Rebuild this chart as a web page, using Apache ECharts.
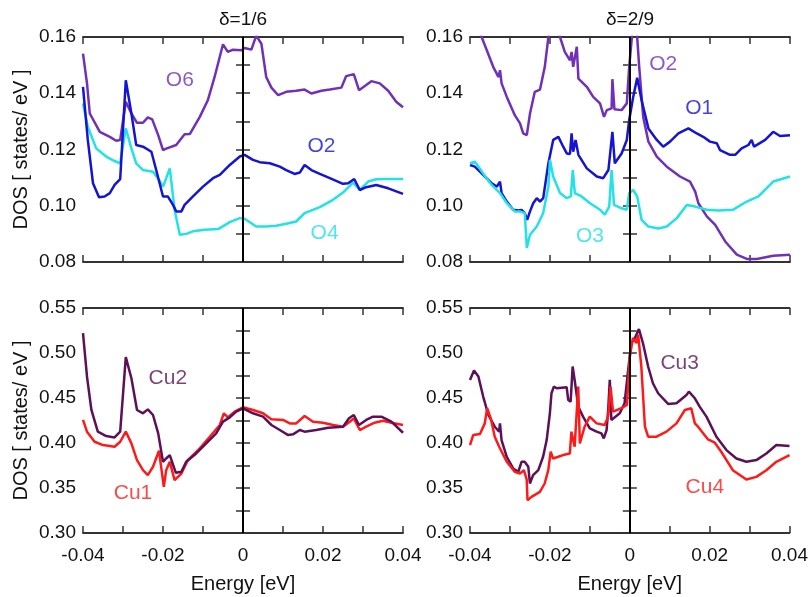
<!DOCTYPE html>
<html>
<head>
<meta charset="utf-8">
<script src="https://cdn.jsdelivr.net/npm/echarts@6/dist/echarts.min.js"></script>
<style>
  html, body { margin: 0; padding: 0; background: #fff; }
  #chart { width: 811px; height: 597px; }
</style>
</head>
<body>
<div id="chart"></div>
<script>
// 能量范围与刻度
const energyMin = -0.04;
const energyMax = 0.04;
const oRange = [0.08, 0.16];
const cuRange = [0.30, 0.55];
const panelTitles = ['δ=1/6', 'δ=2/9'];

// δ=1/6, O 轨道 DOS
const d16_O6 = [
  [-0.04, 0.1541], [-0.039, 0.1435], [-0.0383, 0.1328], [-0.0358, 0.1263], [-0.0333, 0.1245],
  [-0.0317, 0.1231], [-0.0307, 0.1234], [-0.0293, 0.137], [-0.0279, 0.1328], [-0.0265, 0.1295],
  [-0.025, 0.1295], [-0.0238, 0.1314], [-0.0227, 0.1307], [-0.0212, 0.1251], [-0.02, 0.1198],
  [-0.0192, 0.1203], [-0.0167, 0.1216], [-0.0146, 0.1254], [-0.0133, 0.1255], [-0.0108, 0.1316],
  [-0.0088, 0.1375], [-0.0071, 0.1458], [-0.005, 0.1574], [-0.0038, 0.1547], [-0.0025, 0.1555],
  [-0.0004, 0.1553], [0.0004, 0.1561], [0.0021, 0.1555], [0.0033, 0.1605], [0.0046, 0.1576],
  [0.0058, 0.1458], [0.0071, 0.142], [0.0088, 0.1393], [0.0108, 0.1405], [0.0133, 0.1409],
  [0.0154, 0.1413], [0.0171, 0.1399], [0.0196, 0.1409], [0.0217, 0.1413], [0.0246, 0.142],
  [0.0258, 0.1461], [0.0277, 0.1468], [0.029, 0.1411], [0.0308, 0.1429], [0.0321, 0.1443],
  [0.0342, 0.1435], [0.0363, 0.1409], [0.0383, 0.137], [0.04, 0.135]
];
const d16_O2 = [
  [-0.04, 0.1423], [-0.0388, 0.1234], [-0.0375, 0.108], [-0.036, 0.103], [-0.0346, 0.1033],
  [-0.0333, 0.1045], [-0.0321, 0.1074], [-0.0307, 0.1095], [-0.0293, 0.1446], [-0.0279, 0.1328],
  [-0.0267, 0.1216], [-0.025, 0.121], [-0.0229, 0.1192], [-0.0217, 0.1127], [-0.02, 0.1033],
  [-0.0188, 0.1033], [-0.0175, 0.1003], [-0.0167, 0.098], [-0.0154, 0.098], [-0.0146, 0.1003],
  [-0.0125, 0.1033], [-0.01, 0.1068], [-0.0075, 0.1098], [-0.0058, 0.111], [-0.0033, 0.1145],
  [-0.0008, 0.1175], [0.0004, 0.1181], [0.0025, 0.1163], [0.0042, 0.1155], [0.0067, 0.1151],
  [0.0092, 0.1139], [0.0108, 0.1127], [0.0129, 0.1113], [0.0142, 0.1118], [0.0154, 0.1145],
  [0.0171, 0.1127], [0.0192, 0.1113], [0.0217, 0.1098], [0.025, 0.1078], [0.0263, 0.108],
  [0.0278, 0.1095], [0.0292, 0.1056], [0.0308, 0.1066], [0.0333, 0.1074], [0.0363, 0.1062],
  [0.04, 0.1042]
];
const d16_O4 = [
  [-0.04, 0.1364], [-0.0388, 0.1281], [-0.0367, 0.1204], [-0.0342, 0.1175], [-0.0321, 0.1159],
  [-0.0307, 0.1151], [-0.0293, 0.1275], [-0.0279, 0.1204], [-0.0267, 0.1151], [-0.025, 0.1127],
  [-0.0225, 0.1121], [-0.021, 0.1092], [-0.02, 0.1068], [-0.0192, 0.1098], [-0.0183, 0.1133],
  [-0.0171, 0.0985], [-0.0158, 0.0897], [-0.0142, 0.09], [-0.0125, 0.0909], [-0.0096, 0.0915],
  [-0.0062, 0.0917], [-0.0033, 0.0942], [-0.0008, 0.0956], [0.0004, 0.0954], [0.0033, 0.0926],
  [0.0058, 0.0926], [0.0083, 0.0929], [0.0108, 0.0936], [0.0133, 0.0944], [0.0154, 0.0974],
  [0.0192, 0.0995], [0.0225, 0.1021], [0.025, 0.1047], [0.0275, 0.1082], [0.0292, 0.1056],
  [0.0313, 0.1086], [0.0333, 0.1094], [0.0358, 0.1095], [0.04, 0.1095]
];

// δ=2/9, O 轨道 DOS
const d29_O2 = [
  [-0.0385, 0.166], [-0.0371, 0.16], [-0.0358, 0.1553], [-0.0342, 0.1494], [-0.0329, 0.1458],
  [-0.0325, 0.1482], [-0.0321, 0.1435], [-0.0308, 0.1387], [-0.0288, 0.1322], [-0.0275, 0.1293],
  [-0.0267, 0.1257], [-0.0258, 0.1251], [-0.025, 0.1328], [-0.0238, 0.1405], [-0.0225, 0.1413],
  [-0.0213, 0.1494], [-0.0204, 0.16], [-0.019, 0.168], [-0.0175, 0.16], [-0.0163, 0.1547],
  [-0.015, 0.1517], [-0.0146, 0.1547], [-0.0142, 0.1494], [-0.0133, 0.1565], [-0.0129, 0.1452],
  [-0.0108, 0.1423], [-0.0092, 0.1387], [-0.0075, 0.1364], [-0.0065, 0.1316], [-0.0058, 0.134],
  [-0.0046, 0.1346], [-0.0044, 0.145], [-0.0039, 0.1343], [-0.0021, 0.134], [-0.0008, 0.1364],
  [-0.0002, 0.1494], [0.0006, 0.162], [0.0017, 0.162], [0.0023, 0.1494], [0.0033, 0.1316],
  [0.0046, 0.1228], [0.0067, 0.1175], [0.0092, 0.1139], [0.0125, 0.1104], [0.015, 0.1086],
  [0.0163, 0.105], [0.0171, 0.1009], [0.0192, 0.0962], [0.0213, 0.0932], [0.0238, 0.0873],
  [0.0267, 0.0826], [0.0292, 0.0811], [0.0317, 0.0811], [0.0358, 0.0822], [0.04, 0.0826]
];
const d29_O1 = [
  [-0.04, 0.1145], [-0.0388, 0.1139], [-0.0367, 0.111], [-0.0346, 0.108], [-0.0333, 0.1068],
  [-0.0325, 0.1086], [-0.0321, 0.1045], [-0.0308, 0.1015], [-0.0292, 0.0986], [-0.0279, 0.0983],
  [-0.0271, 0.0985], [-0.0263, 0.0974], [-0.0257, 0.095], [-0.025, 0.098], [-0.0242, 0.1009],
  [-0.0233, 0.1027], [-0.0225, 0.1015], [-0.0217, 0.1027], [-0.0204, 0.1151], [-0.0192, 0.1234],
  [-0.0179, 0.1245], [-0.0167, 0.121], [-0.0158, 0.1186], [-0.015, 0.1184], [-0.0146, 0.1257],
  [-0.0142, 0.1192], [-0.0136, 0.1234], [-0.0129, 0.1181], [-0.0108, 0.1133], [-0.0083, 0.1104],
  [-0.0067, 0.1098], [-0.0054, 0.1127], [-0.0044, 0.1263], [-0.0038, 0.1151], [-0.0021, 0.1186],
  [-0.0008, 0.1234], [-0.0002, 0.1305], [0.0008, 0.1387], [0.0018, 0.1455], [0.0029, 0.1375],
  [0.0046, 0.1275], [0.0067, 0.1234], [0.0083, 0.121], [0.01, 0.1228], [0.0121, 0.1257],
  [0.0146, 0.1275], [0.0167, 0.1257], [0.0183, 0.1245], [0.02, 0.1228], [0.0217, 0.1222],
  [0.0225, 0.1198], [0.025, 0.1181], [0.0263, 0.1181], [0.0279, 0.1204], [0.0296, 0.1216],
  [0.0304, 0.1234], [0.031, 0.121], [0.0338, 0.1234], [0.0358, 0.1263], [0.0375, 0.1248],
  [0.04, 0.1251]
];
const d29_O3 = [
  [-0.04, 0.1151], [-0.0388, 0.1157], [-0.0367, 0.1115], [-0.0346, 0.1074], [-0.0325, 0.1045],
  [-0.0308, 0.1009], [-0.0288, 0.098], [-0.0275, 0.098], [-0.0263, 0.0974], [-0.0258, 0.085],
  [-0.025, 0.0897], [-0.0233, 0.0926], [-0.0217, 0.0974], [-0.0204, 0.1068], [-0.02, 0.1163],
  [-0.0192, 0.1104], [-0.0175, 0.1045], [-0.0158, 0.1027], [-0.0148, 0.1033], [-0.0143, 0.1127],
  [-0.0138, 0.1045], [-0.0121, 0.1033], [-0.01, 0.1009], [-0.0075, 0.0986], [-0.0063, 0.0968],
  [-0.0052, 0.0997], [-0.0046, 0.1127], [-0.004, 0.1003], [-0.0021, 0.0991], [-0.0008, 0.0986],
  [-0.0002, 0.1045], [0.0008, 0.1056], [0.0018, 0.1033], [0.0029, 0.095], [0.0046, 0.0926],
  [0.0071, 0.0919], [0.0092, 0.0926], [0.0117, 0.0956], [0.0142, 0.1003], [0.0163, 0.0997],
  [0.0192, 0.0986], [0.0221, 0.0983], [0.0258, 0.0986], [0.0292, 0.1015], [0.0321, 0.1033],
  [0.0358, 0.1086], [0.04, 0.1104]
];

// δ=1/6, Cu 轨道 DOS
const d16_Cu2 = [
  [-0.04, 0.5221], [-0.039, 0.4738], [-0.0379, 0.4367], [-0.0363, 0.4126], [-0.0342, 0.4077],
  [-0.0321, 0.4062], [-0.0307, 0.4126], [-0.0293, 0.4954], [-0.0279, 0.472], [-0.0265, 0.4367],
  [-0.025, 0.433], [-0.0238, 0.4374], [-0.0225, 0.4311], [-0.0212, 0.4107], [-0.02, 0.3791],
  [-0.0192, 0.3828], [-0.0183, 0.3866], [-0.0168, 0.3669], [-0.0154, 0.368], [-0.0142, 0.3791],
  [-0.0117, 0.3884], [-0.0092, 0.3996], [-0.0067, 0.4107], [-0.005, 0.4237], [-0.0033, 0.4285],
  [-0.0017, 0.4348], [0, 0.4386], [0.0025, 0.433], [0.005, 0.4293], [0.0071, 0.42],
  [0.0092, 0.4144], [0.0113, 0.4088], [0.0125, 0.4096], [0.0142, 0.4144], [0.0154, 0.4126],
  [0.0183, 0.4144], [0.0213, 0.417], [0.025, 0.4181], [0.0265, 0.4274], [0.0277, 0.4311],
  [0.029, 0.42], [0.0308, 0.4256], [0.0325, 0.4293], [0.0346, 0.4293], [0.0371, 0.4237],
  [0.04, 0.4114]
];
const d16_Cu1 = [
  [-0.04, 0.4256], [-0.039, 0.4126], [-0.0371, 0.4014], [-0.035, 0.3977], [-0.0321, 0.3958],
  [-0.0307, 0.4014], [-0.0293, 0.4126], [-0.0279, 0.3996], [-0.0265, 0.381], [-0.025, 0.3698],
  [-0.0238, 0.3643], [-0.0225, 0.3736], [-0.021, 0.3914], [-0.0198, 0.3513], [-0.0192, 0.3698],
  [-0.0183, 0.3791], [-0.0171, 0.3587], [-0.0154, 0.3661], [-0.0138, 0.381], [-0.0108, 0.394],
  [-0.0083, 0.407], [-0.0058, 0.42], [-0.0048, 0.433], [-0.0038, 0.4285], [-0.0021, 0.4348],
  [0, 0.4397], [0.0025, 0.4367], [0.005, 0.433], [0.0071, 0.4263], [0.01, 0.4256],
  [0.0117, 0.4218], [0.0133, 0.4218], [0.0154, 0.43], [0.0175, 0.4237], [0.02, 0.4226],
  [0.0225, 0.42], [0.025, 0.4181], [0.0267, 0.4237], [0.0277, 0.4274], [0.0292, 0.4144],
  [0.0308, 0.4181], [0.0329, 0.4226], [0.035, 0.4248], [0.0371, 0.4226], [0.04, 0.42]
];

// δ=2/9, Cu 轨道 DOS
const d29_Cu3 = [
  [-0.04, 0.4701], [-0.039, 0.4805], [-0.0379, 0.4738], [-0.0367, 0.4516], [-0.0354, 0.4311],
  [-0.0338, 0.4181], [-0.0327, 0.4126], [-0.0325, 0.4218], [-0.0321, 0.4033], [-0.0308, 0.3847],
  [-0.0292, 0.3717], [-0.0279, 0.368], [-0.0271, 0.3791], [-0.0263, 0.3791], [-0.0254, 0.3736],
  [-0.025, 0.355], [-0.0242, 0.3643], [-0.0229, 0.3698], [-0.0217, 0.3847], [-0.0208, 0.4033],
  [-0.02, 0.433], [-0.0196, 0.4553], [-0.019, 0.4627], [-0.0183, 0.4608], [-0.0158, 0.462],
  [-0.0154, 0.4478], [-0.0148, 0.446], [-0.0143, 0.485], [-0.0138, 0.4701], [-0.0129, 0.4404],
  [-0.0117, 0.4293], [-0.01, 0.4163], [-0.0083, 0.4126], [-0.0071, 0.4107], [-0.0065, 0.4051],
  [-0.0058, 0.4144], [-0.0054, 0.4367], [-0.005, 0.4701], [-0.0046, 0.4256], [-0.0025, 0.433],
  [-0.0013, 0.4441], [-0.0004, 0.4813], [0.0004, 0.511], [0.0013, 0.5166], [0.0023, 0.5266],
  [0.0033, 0.511], [0.0046, 0.485], [0.0058, 0.4664], [0.0071, 0.4553], [0.0096, 0.4434],
  [0.0117, 0.4441], [0.0142, 0.4534], [0.0148, 0.4571], [0.0163, 0.4497], [0.0175, 0.4404],
  [0.0192, 0.4293], [0.0217, 0.407], [0.0242, 0.3921], [0.0267, 0.3828], [0.0292, 0.3791],
  [0.0317, 0.381], [0.0342, 0.3884], [0.0367, 0.3977], [0.04, 0.3966]
];
const d29_Cu4 = [
  [-0.04, 0.3977], [-0.0392, 0.4088], [-0.0375, 0.41], [-0.0363, 0.4218], [-0.0357, 0.4386],
  [-0.0348, 0.4274], [-0.0338, 0.407], [-0.0327, 0.3958], [-0.0308, 0.3791], [-0.0288, 0.368],
  [-0.0275, 0.3661], [-0.0265, 0.3698], [-0.0258, 0.3594], [-0.0256, 0.3364], [-0.0246, 0.3401],
  [-0.0225, 0.3457], [-0.0213, 0.355], [-0.0204, 0.3698], [-0.0198, 0.3903], [-0.0192, 0.3828],
  [-0.0179, 0.3847], [-0.0167, 0.3866], [-0.015, 0.3884], [-0.0146, 0.4126], [-0.0138, 0.3958],
  [-0.0129, 0.4627], [-0.0125, 0.3996], [-0.0113, 0.4181], [-0.01, 0.4293], [-0.0083, 0.4218],
  [-0.0063, 0.42], [-0.0054, 0.4293], [-0.0048, 0.4627], [-0.0042, 0.4348], [-0.0021, 0.4386],
  [-0.0007, 0.4423], [0, 0.4961], [0.0008, 0.5166], [0.0017, 0.511], [0.0021, 0.5203],
  [0.0029, 0.485], [0.0038, 0.4181], [0.0046, 0.407], [0.0067, 0.407], [0.0092, 0.4126],
  [0.0117, 0.4218], [0.0138, 0.4367], [0.0154, 0.4386], [0.0163, 0.4218], [0.0171, 0.4181],
  [0.0196, 0.404], [0.0213, 0.4003], [0.0229, 0.3903], [0.0258, 0.3698], [0.0292, 0.3594],
  [0.0317, 0.3624], [0.0342, 0.3698], [0.0367, 0.3791], [0.04, 0.3866]
];

// 曲线标注位置（数据坐标）
const curveLabels = [
  { panel: 0, name: 'O6', at: [-0.0158, 0.1446], color: '#7030b8' },
  { panel: 0, name: 'O2', at: [0.0196, 0.121], color: '#1414d2' },
  { panel: 0, name: 'O4', at: [0.0204, 0.0903], color: '#22e2e6' },
  { panel: 1, name: 'O2', at: [0.0083, 0.1505], color: '#7030b8' },
  { panel: 1, name: 'O1', at: [0.0173, 0.1346], color: '#1414d2' },
  { panel: 1, name: 'O3', at: [-0.01, 0.0891], color: '#22e2e6' },
  { panel: 2, name: 'Cu2', at: [-0.0188, 0.472], color: '#5c1058' },
  { panel: 2, name: 'Cu1', at: [-0.0275, 0.3438], color: '#ff1a1a' },
  { panel: 3, name: 'Cu3', at: [0.0125, 0.4887], color: '#5c1058' },
  { panel: 3, name: 'Cu4', at: [0.0188, 0.3505], color: '#ff1a1a' }
];

const PURPLE = '#7030b8';
const BLUE = '#1414d2';
const CYAN = '#22e2e6';
const DARK = '#5c1058';
const RED = '#ff1a1a';

const FONT = 'Liberation Sans, Arial, Helvetica, sans-serif';
const chart = echarts.init(document.getElementById('chart'));

const grids = [
  { left: 83, top: 37, width: 320, height: 225 },
  { left: 470, top: 37, width: 320, height: 225 },
  { left: 83, top: 308, width: 320, height: 225 },
  { left: 470, top: 308, width: 320, height: 225 }
];

const frameLine = { show: true, lineStyle: { color: '#333', width: 1.8 } };
const tickStyle = { show: true, inside: true, length: 7, lineStyle: { color: '#333', width: 1.5 } };

function xLabel(v) {
  const k = Math.round(v * 100);
  if (k % 2 !== 0) return '';
  return k === 0 ? '0' : (k / 100).toFixed(2);
}

const xAxes = [];
const yAxes = [];
grids.forEach((g, i) => {
  const bottomRow = i >= 2;
  xAxes.push({
    type: 'value', gridIndex: i, position: 'bottom',
    min: energyMin, max: energyMax, interval: 0.01,
    axisLine: frameLine, axisTick: tickStyle, splitLine: { show: false },
    axisLabel: {
      show: bottomRow, formatter: xLabel, margin: 13,
      fontFamily: FONT, fontSize: 19, color: '#111'
    },
    name: bottomRow ? 'Energy [eV]' : '', nameLocation: 'middle', nameGap: 41,
    nameTextStyle: { fontFamily: FONT, fontSize: 20, color: '#111' }
  });
  xAxes.push({
    type: 'value', gridIndex: i, position: 'top',
    min: energyMin, max: energyMax, interval: 0.01,
    axisLine: frameLine, axisTick: tickStyle, splitLine: { show: false },
    axisLabel: { show: false },
    name: bottomRow ? '' : panelTitles[i], nameLocation: 'middle', nameGap: 8,
    nameTextStyle: { fontFamily: FONT, fontSize: 19, color: '#111' }
  });
  const range = bottomRow ? cuRange : oRange;
  const step = bottomRow ? 0.025 : 0.01;
  const yFmt = bottomRow
    ? v => (Math.round(v * 1000) % 50 === 0 ? v.toFixed(2) : '')
    : v => (Math.round(v * 100) % 2 === 0 ? v.toFixed(2) : '');
  yAxes.push({
    type: 'value', gridIndex: i, position: 'left',
    min: range[0], max: range[1], interval: step,
    axisLine: frameLine, axisTick: tickStyle, splitLine: { show: false },
    axisLabel: { formatter: yFmt, margin: 7, fontFamily: FONT, fontSize: 19, color: '#111' },
    name: (i % 2 === 0) ? 'DOS [ states/ eV ]' : '', nameLocation: 'middle', nameGap: 52,
    nameTextStyle: { fontFamily: FONT, fontSize: 20, color: '#111' }
  });
  yAxes.push({
    type: 'value', gridIndex: i, position: 'right',
    min: range[0], max: range[1], interval: step,
    axisLine: frameLine, axisTick: tickStyle, splitLine: { show: false },
    axisLabel: { show: false }
  });
});

function line(panel, data, color, withZero) {
  const s = {
    type: 'line', xAxisIndex: panel * 2, yAxisIndex: panel * 2,
    data: data, showSymbol: false, symbol: 'none', smooth: false,
    lineStyle: { color: color, width: 2.5 }, clip: true, z: 3
  };
  if (withZero) {
    s.markLine = {
      silent: true, symbol: 'none', label: { show: false },
      lineStyle: { color: '#000', width: 2, type: 'solid' },
      data: [{ xAxis: 0 }]
    };
  }
  return s;
}

const series = [
  line(0, d16_O6, PURPLE, true),
  line(0, d16_O4, CYAN),
  line(0, d16_O2, BLUE),
  line(1, d29_O2, PURPLE, true),
  line(1, d29_O1, BLUE),
  line(1, d29_O3, CYAN),
  line(2, d16_Cu1, RED, true),
  line(2, d16_Cu2, DARK),
  line(3, d29_Cu3, DARK, true),
  line(3, d29_Cu4, RED)
];

curveLabels.forEach(l => {
  series.push({
    type: 'scatter', xAxisIndex: l.panel * 2, yAxisIndex: l.panel * 2,
    data: [l.at], symbolSize: 0, silent: true, z: 5,
    label: {
      show: true, position: 'inside', formatter: l.name,
      fontFamily: FONT, fontSize: 21, color: l.color
    }
  });
});

chart.setOption({
  animation: false,
  backgroundColor: '#fff',
  grid: grids,
  xAxis: xAxes,
  yAxis: yAxes,
  series: series
});
</script>
</body>
</html>
